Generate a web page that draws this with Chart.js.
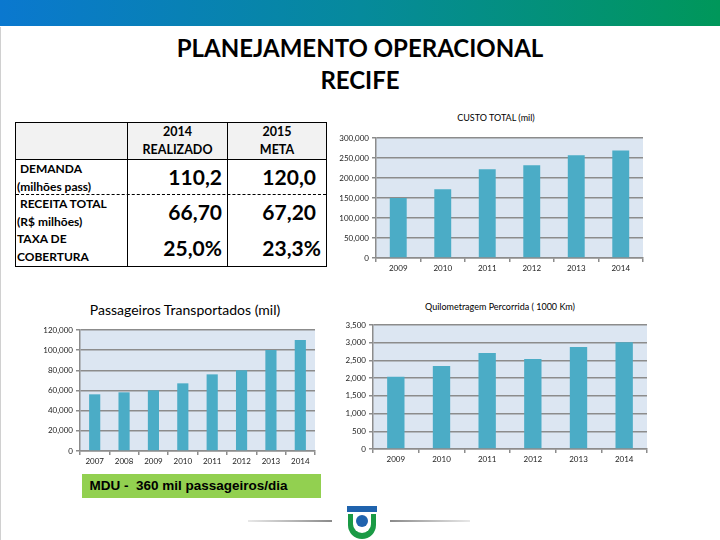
<!DOCTYPE html>
<html>
<head>
<meta charset="utf-8">
<script src="https://cdn.jsdelivr.net/npm/chart.js@4.4.0/dist/chart.umd.min.js"></script>
<style>
  body { margin: 0; width: 720px; height: 540px; position: relative; overflow: hidden; background: #fff; font-family: Lato, "Open Sans", sans-serif; }
  .abs { position: absolute; }
  #topbar { left: 0; top: 0; width: 720px; height: 26px; background: linear-gradient(to right, #0a78cf, #068a9c 50%, #00975a); }
  #leftline { left: 0; top: 27px; width: 1px; height: 513px; background: #d0d0d0; }
  .title { left: 0; width: 720px; text-align: center; font-weight: bold; font-size: 24px; color: #000; }
  .ctitle { font-size: 9px; color: #000; text-align: center; white-space: nowrap; }
  canvas { position: absolute; }
  #tbl { left: 15px; top: 122px; width: 310px; height: 143px; border: 1px solid #000; }
  .cell { position: absolute; font-weight: bold; color: #000; }
  .hdr { font-size: 12.5px; text-align: center; line-height: 18px; }
  .lbl { font-size: 12px; line-height: 18px; left: 1px; }
  .val { font-size: 21px; text-align: right; }
  #mdu { left: 82px; top: 474px; width: 239px; height: 24px; background: #92d050; font-family: "Liberation Sans", Arial, sans-serif; font-weight: bold; font-size: 13.5px; line-height: 24px; }
</style>
</head>
<body>
<div id="topbar" class="abs"></div>
<div id="leftline" class="abs"></div>
<div class="abs title" style="top:33px;">PLANEJAMENTO OPERACIONAL</div>
<div class="abs title" style="top:65px;">RECIFE</div>

<div id="tbl" class="abs">
  <div class="cell" style="left:0;top:0;width:310px;height:36px;background:#f2f2f2;border-bottom:1px solid #000;"></div>
  <div class="cell" style="left:111px;top:0;width:1px;height:143px;background:#000;"></div>
  <div class="cell" style="left:211px;top:0;width:1px;height:143px;background:#000;"></div>
  <div class="cell" style="left:0;top:71px;width:310px;height:0;border-top:1px dashed #000;"></div>
  <div class="cell hdr" style="left:112px;top:0;width:99px;">2014<br>REALIZADO</div>
  <div class="cell hdr" style="left:212px;top:0;width:98px;">2015<br>META</div>
  <div class="cell lbl" style="top:37px;">&nbsp;DEMANDA<br>(milhões pass)</div>
  <div class="cell lbl" style="top:72px;">&nbsp;RECEITA TOTAL<br>(R$ milhões)</div>
  <div class="cell lbl" style="top:107px;">TAXA DE<br>COBERTURA</div>
  <div class="cell val" style="left:112px;top:41px;width:94px;">110,2</div>
  <div class="cell val" style="left:212px;top:41px;width:88px;">120,0</div>
  <div class="cell val" style="left:112px;top:76px;width:94px;">66,70</div>
  <div class="cell val" style="left:212px;top:76px;width:88px;">67,20</div>
  <div class="cell val" style="left:112px;top:112px;width:94px;">25,0%</div>
  <div class="cell val" style="left:212px;top:112px;width:93px;">23,3%</div>
</div>

<div class="abs ctitle" style="left:396px;top:112px;width:200px;">CUSTO TOTAL (mil)</div>
<canvas id="c1" width="330" height="150" style="left:330px;top:130px;"></canvas>

<div class="abs" style="left:35px;top:301px;width:300px;text-align:center;font-size:14px;color:#000;">Passageiros Transportados (mil)</div>
<canvas id="c2" width="300" height="150" style="left:30px;top:322px;"></canvas>

<div class="abs ctitle" style="left:400px;top:301px;width:200px;">Quilometragem Percorrida ( 1000 Km)</div>
<canvas id="c3" width="330" height="155" style="left:330px;top:317px;"></canvas>

<div id="mdu" class="abs">&nbsp;&nbsp;MDU -&nbsp; 360 mil passageiros/dia</div>

<div class="abs" style="left:248px;top:520px;width:84px;height:2px;background:linear-gradient(to right,#e8e8e8,#8a8a8a);"></div>
<div class="abs" style="left:390px;top:520px;width:80px;height:2px;background:linear-gradient(to right,#8a8a8a,#e8e8e8);"></div>
<svg class="abs" style="left:346px;top:505px;" width="32" height="35" viewBox="0 0 32 35">
  <rect x="1" y="1" width="30" height="6" fill="#1f63ad"/>
  <path d="M2 9 H30 V20 A14 14 0 0 1 2 20 Z" fill="#1a9a45"/>
  <path d="M7 9 H25 V19 A9 9 0 0 1 7 19 Z" fill="#ffffff"/>
  <circle cx="16" cy="16" r="6" fill="#1f63ad"/>
</svg>

<script>
const custoYears = ['2009', '2010', '2011', '2012', '2013', '2014'];
const custoValues = [150000, 171700, 221700, 231700, 256700, 269000];

const passYears = ['2007', '2008', '2009', '2010', '2011', '2012', '2013', '2014'];
const passValues = [56200, 58200, 60200, 67100, 76000, 80000, 100200, 110200];

const kmYears = ['2009', '2010', '2011', '2012', '2013', '2014'];
const kmValues = [2038, 2340, 2708, 2538, 2877, 3010];

const plotBg = {
  id: 'plotBg',
  beforeDraw(chart) {
    const { ctx, chartArea: a } = chart;
    ctx.save();
    ctx.fillStyle = '#dce6f2';
    ctx.fillRect(a.left, a.top, a.width, a.height);
    ctx.restore();
  }
};

function makeChart(id, labels, values, max, step, yWidth, xHeight, padRight, padTop) {
  return new Chart(document.getElementById(id), {
    type: 'bar',
    data: {
      labels: labels,
      datasets: [{
        data: values,
        backgroundColor: '#4bacc6',
        barPercentage: 0.38,
        categoryPercentage: 1
      }]
    },
    options: {
      responsive: false,
      animation: false,
      layout: { padding: { left: 0, right: padRight, top: padTop, bottom: 0 } },
      plugins: { legend: { display: false }, tooltip: { enabled: false } },
      scales: {
        x: {
          grid: { offset: true, drawOnChartArea: false, color: '#8c8c8c', lineWidth: 1.5, tickLength: 4 },
          border: { color: '#8c8c8c', width: 1.5 },
          ticks: { color: '#222', font: { family: 'Lato', size: 8 }, maxRotation: 0, padding: 2 },
          afterFit(s) { s.height = xHeight; }
        },
        y: {
          min: 0,
          max: max,
          ticks: { stepSize: step, color: '#222', font: { family: 'Lato', size: 8 }, padding: 3,
                   callback: v => v.toLocaleString('en-US') },
          grid: { color: '#8c8c8c', lineWidth: 1.5, tickLength: 4 },
          border: { color: '#8c8c8c', width: 1.5 },
          afterFit(s) { s.width = yWidth; }
        }
      }
    },
    plugins: [plotBg]
  });
}

makeChart('c1', custoYears, custoValues, 300000, 50000, 46, 22, 17, 8);
makeChart('c2', passYears, passValues, 120000, 20000, 50, 21, 15, 8);
makeChart('c3', kmYears, kmValues, 3500, 500, 43, 23, 13, 8);
</script>
</body>
</html>
